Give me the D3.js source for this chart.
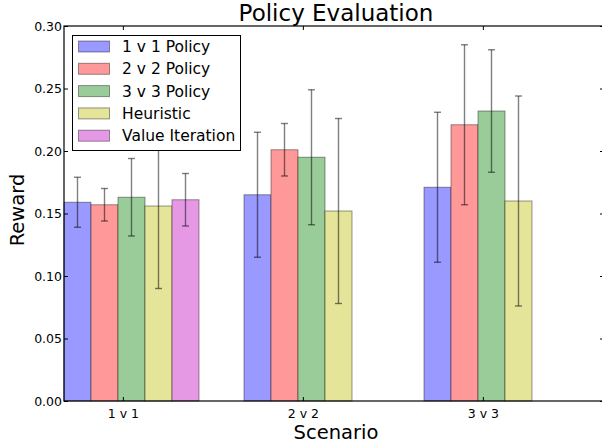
<!DOCTYPE html>
<html><head><meta charset="utf-8">
<script src="https://cdn.jsdelivr.net/npm/d3@7"></script>
<style>body{margin:0;background:#fff}svg{display:block;font-family:"DejaVu Sans",sans-serif}</style>
</head><body><svg id="c" width="602" height="445"></svg>
<script>
const scenarios = ["1 v 1", "2 v 2", "3 v 3"];
const seriesNames = ["1 v 1 Policy", "2 v 2 Policy", "3 v 3 Policy", "Heuristic", "Value Iteration"];
const policy1v1 = [0.159, 0.165, 0.171];
const err1v1 = [0.020, 0.050, 0.060];
const policy2v2 = [0.157, 0.201, 0.221];
const err2v2 = [0.013, 0.021, 0.064];
const policy3v3 = [0.163, 0.195, 0.232];
const err3v3 = [0.031, 0.054, 0.049];
const heuristic = [0.156, 0.152, 0.160];
const errHeuristic = [0.066, 0.074, 0.084];
const valueIteration = [0.161, null, null];
const errValueIteration = [0.021, null, null];
const yTicks = [0.00, 0.05, 0.10, 0.15, 0.20, 0.25, 0.30];

const colors = ["#9999ff", "#ff9999", "#99cc99", "#e5e599", "#e599e5"];
const values = [policy1v1, policy2v2, policy3v3, heuristic, valueIteration];
const errs = [err1v1, err2v2, err3v3, errHeuristic, errValueIteration];

const svg = d3.select("#c");
const L = 64, R = 604, T = 26, B = 401;
const barW = 0.15, tickOff = 0.327;
const x = d3.scaleLinear().domain([0, 3]).range([L, R]);
const y = d3.scaleLinear().domain([0, 0.30]).range([B, T]);

const g = svg.append("g");
// bars
values.forEach((vals, k) => {
  vals.forEach((v, i) => {
    if (v == null) return;
    g.append("rect")
      .attr("x", x(i + k * barW)).attr("y", y(v))
      .attr("width", x(barW) - x(0)).attr("height", y(0) - y(v))
      .attr("fill", colors[k]).attr("stroke", "#000").attr("stroke-opacity", 0.4).attr("stroke-width", 1);
  });
});
// error bars
values.forEach((vals, k) => {
  vals.forEach((v, i) => {
    if (v == null) return;
    const cx = x(i + k * barW + barW / 2);
    const e = errs[k][i];
    const eg = g.append("g").attr("stroke", "#000").attr("stroke-opacity", 0.5).attr("stroke-width", 1.4);
    eg.append("line").attr("x1", cx).attr("x2", cx).attr("y1", y(v - e)).attr("y2", y(v + e));
    eg.append("line").attr("x1", cx - 3.5).attr("x2", cx + 3.5).attr("y1", y(v - e)).attr("y2", y(v - e));
    eg.append("line").attr("x1", cx - 3.5).attr("x2", cx + 3.5).attr("y1", y(v + e)).attr("y2", y(v + e));
  });
});

// axes
const tickVals = scenarios.map((s, i) => i + tickOff);
const xAxis = svg.append("g").attr("transform", `translate(0,${B})`)
  .call(d3.axisBottom(x).tickValues(tickVals).tickFormat((d, i) => scenarios[i]).tickSizeInner(-4).tickSizeOuter(0).tickPadding(8));
const xTop = svg.append("g").attr("transform", `translate(0,${T})`)
  .call(d3.axisTop(x).tickValues(tickVals).tickFormat("").tickSizeInner(-4).tickSizeOuter(0));
const yAxis = svg.append("g").attr("transform", `translate(${L},0)`)
  .call(d3.axisLeft(y).tickValues(yTicks).tickFormat(d3.format(".2f")).tickSizeInner(-4).tickSizeOuter(0).tickPadding(2));
const yRight = svg.append("g").attr("transform", `translate(${R},0)`)
  .call(d3.axisRight(y).tickValues(yTicks).tickFormat("").tickSizeInner(-4).tickSizeOuter(0));
[xAxis, xTop, yAxis, yRight].forEach(a => {
  a.select(".domain").remove();
  a.selectAll("line").attr("stroke", "#000").attr("stroke-width", 1);
  a.selectAll("text").attr("font-size", 12.5).attr("fill", "#000").attr("font-family", "DejaVu Sans");
});
svg.append("rect").attr("x", L).attr("y", T).attr("width", R - L).attr("height", B - T)
  .attr("fill", "none").attr("stroke", "#000").attr("stroke-width", 1.2);

// legend
const lg = svg.append("g");
lg.append("rect").attr("x", 72.5).attr("y", 35.5).attr("width", 168).attr("height", 115)
  .attr("fill", "#fff").attr("stroke", "#000").attr("stroke-width", 1);
seriesNames.forEach((n, k) => {
  const cy = 46.5 + k * 22.3;
  lg.append("rect").attr("x", 78.5).attr("y", cy - 5.5).attr("width", 31).attr("height", 11)
    .attr("fill", colors[k]).attr("stroke", "#000").attr("stroke-opacity", 0.4);
  lg.append("text").attr("x", 122).attr("y", cy + 5.5).attr("font-size", 15.5).text(n);
});

// titles
svg.append("text").attr("x", 336).attr("y", 21).attr("text-anchor", "middle").attr("font-size", 23).text("Policy Evaluation");
svg.append("text").attr("x", 336).attr("y", 439).attr("text-anchor", "middle").attr("font-size", 19.5).text("Scenario");
svg.append("text").attr("transform", `translate(24,210) rotate(-90)`).attr("text-anchor", "middle").attr("font-size", 19.5).text("Reward");
</script></body></html>
